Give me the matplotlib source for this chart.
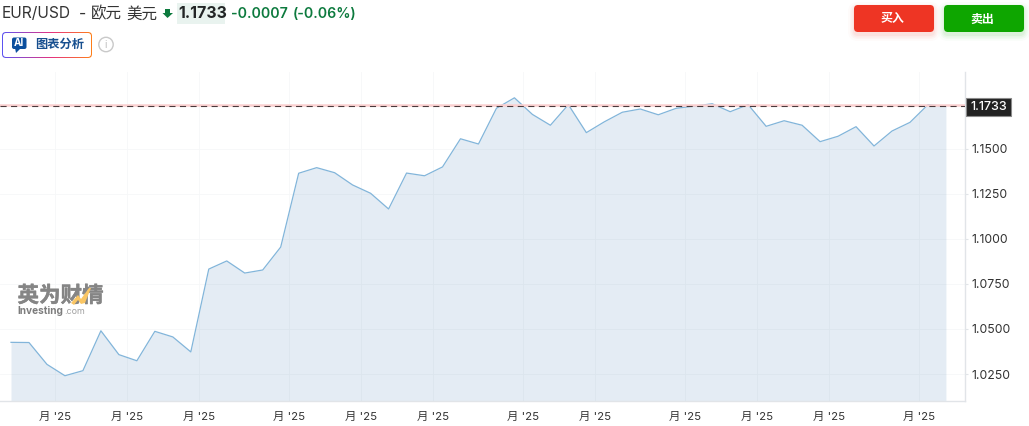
import numpy as np
import matplotlib
matplotlib.use('Agg')
import matplotlib.pyplot as plt
import matplotlib.patheffects as pe
from matplotlib.patches import FancyBboxPatch, Polygon, Circle

plt.rcParams['font.family'] = ['Inter', 'Noto Sans CJK SC', 'DejaVu Sans']

# weekly closes
prices = [1.0426, 1.0425, 1.0304, 1.0241, 1.0269, 1.0490, 1.0358, 1.0324, 1.0487, 1.0456,
          1.0373, 1.0832, 1.0877, 1.0810, 1.0827, 1.0954, 1.1363, 1.1394, 1.1366, 1.1298,
          1.1252, 1.1165, 1.1364, 1.1349, 1.1398, 1.1554, 1.1525, 1.1723, 1.1781, 1.1689,
          1.1629, 1.1743, 1.1588, 1.1648, 1.1701, 1.1719, 1.1687, 1.1723, 1.1735, 1.1748,
          1.1704, 1.1743, 1.1623, 1.1654, 1.1629, 1.1538, 1.1568, 1.1621, 1.1514, 1.1597,
          1.1645, 1.1743, 1.1733]
last_price = 1.1733
y_ticks = [1.0250, 1.0500, 1.0750, 1.1000, 1.1250, 1.1500]
x_ticks = [2.45, 6.45, 10.45, 15.45, 19.47, 23.47, 28.47, 32.47, 37.48, 41.48, 45.48, 50.48]
x_labels = ["月 '25"] * 12

W, H = 1029, 426
fig = plt.figure(figsize=(W / 100, H / 100), dpi=100, facecolor='white')

# chart area, x axis in weeks
y_bottom = 1.0101
ax = fig.add_axes([0, (H - 401) / H, 965 / W, 329 / H])
ax.set_xlim(-0.612, 53.06)
ax.set_ylim(y_bottom, 1.1924)
x = np.arange(len(prices))
ax.fill_between(x, prices, y_bottom, color='#2a6ea8', alpha=0.125, lw=0, zorder=2)
ax.plot(x, prices, color='#82b5da', lw=0.9, zorder=3)
ax.axhline(last_price + 0.0007, color='#fbd0d0', lw=1.8, zorder=4)
ax.axhline(last_price, color='#4a3a3c', lw=0.8, dashes=(5.5, 4), zorder=5)

ax.set_xticks(x_ticks)
ax.set_xticklabels(x_labels)
ax.set_yticks(y_ticks)
ax.set_yticklabels(['%.4f' % v for v in y_ticks])
ax.yaxis.tick_right()
ax.grid(color='#f6f7f8', lw=0.6, zorder=1)
ax.set_axisbelow(True)
for s in ['top', 'left']:
    ax.spines[s].set_visible(False)
for s in ['right', 'bottom']:
    ax.spines[s].set_color('#e1e4e8')
    ax.spines[s].set_linewidth(1)
ax.tick_params(axis='y', length=2.2, width=0.8, color='#e1e4e8', labelcolor='#333333', labelsize=8.8, pad=2.2)
ax.tick_params(axis='x', length=0, labelcolor='#333333', labelsize=8.2, pad=8)

# overlay in pixel coordinates for the page furniture
ov = fig.add_axes([0, 0, 1, 1], facecolor='none')
ov.set_xlim(0, W)
ov.set_ylim(H, 0)
ov.axis('off')

# price label
ov.add_patch(plt.Rectangle((965.5, 97.5), 45, 18, fc='#222222', ec='#8a8a8a', lw=0.8))
ov.text(989, 107, '%.4f' % last_price, color='white', fontsize=9, fontweight='medium', ha='center', va='center')

# header
ov.text(2, 14, 'EUR/USD', fontsize=11.2, color='#333333', va='center')
ov.text(79, 14, '-', fontsize=11.2, color='#333333', va='center')
ov.text(90.5, 14, '欧元', fontsize=11.2, color='#333333', va='center')
ov.text(126.5, 14, '美元', fontsize=11.2, color='#333333', va='center')
ov.add_patch(Polygon([(165, 9), (170, 9), (170, 13), (173, 13), (167.5, 18), (162.5, 13), (165, 13)],
                     fc='#0d7a3e', ec='none'))
ov.add_patch(plt.Rectangle((177, 3), 48, 21, fc='#e9f3ef', ec='none'))
ov.text(178, 14, '1.1733', fontsize=11.5, fontweight='bold', color='#232526', va='center')
ov.text(231, 14, '-0.0007', fontsize=10.2, fontweight='semibold', color='#0d7a3e', va='center')
ov.text(293, 14, '(-0.06%)', fontsize=10.2, fontweight='semibold', color='#0d7a3e', va='center')

# AI button, gradient border
outer = FancyBboxPatch((2, 32), 90, 26, boxstyle='round,pad=0,rounding_size=4', fc='none', ec='none',
                       transform=ov.transData)
ov.add_patch(outer)
grad = np.linspace(0, 1, 200)
colors = np.array([[0.36, 0.33, 0.95], [0.90, 0.20, 0.50], [1.0, 0.50, 0.10]])
rgb = np.stack([np.interp(grad, [0, 0.55, 1], colors[:, i]) for i in range(3)], axis=1)[None, :, :]
im = ov.imshow(rgb, extent=(2, 92, 58, 32), aspect='auto', zorder=2)
im.set_clip_path(outer)
ov.set_xlim(0, W)
ov.set_ylim(H, 0)
ov.add_patch(FancyBboxPatch((3, 33), 88, 24, boxstyle='round,pad=0,rounding_size=3', fc='white', ec='none', zorder=3))
ov.add_patch(FancyBboxPatch((12, 37.5), 14.5, 11.5, boxstyle='round,pad=0,rounding_size=2', fc='#0b4f9e', ec='none', zorder=4))
ov.add_patch(Polygon([(15, 48), (21, 48), (16, 53)], fc='#0b4f9e', ec='none', zorder=4))
ov.text(19.2, 43.5, 'AI', fontsize=7.2, fontweight='bold', color='white', ha='center', va='center', zorder=5)
ov.text(59.5, 44.5, '图表分析', fontsize=8.8, fontweight='bold', color='#174f8f', ha='center', va='center', zorder=5)
ov.add_patch(Circle((106, 44.5), 7.2, fc='white', ec='#c9c9c9', lw=1, zorder=4))
ov.text(106, 44.5, 'i', fontsize=7.5, color='#c0c0c0', ha='center', va='center', zorder=5)

# buy / sell buttons with soft shadow
for bx, col, label in [(854, '#ee3524', '买入'), (944, '#0ea600', '卖出')]:
    for grow, a in [(6, 0.02), (4, 0.03), (2.5, 0.04), (1, 0.05)]:
        ov.add_patch(FancyBboxPatch((bx - grow, 5 - grow + 3), 80 + 2 * grow, 27 + 2 * grow,
                                    boxstyle='round,pad=0,rounding_size=%g' % (4 + grow),
                                    fc=col, ec='none', alpha=a, zorder=2))
    ov.add_patch(FancyBboxPatch((bx, 5), 80, 27, boxstyle='round,pad=0,rounding_size=4', fc=col, ec='none', zorder=3))
    ov.text(bx + 38, 19.5, label, fontsize=8.6, fontweight='bold', color='white', ha='center', va='center', zorder=4)

# watermark
ov.text(17.5, 296, '英为财情', fontsize=15.5, fontweight='bold', color='#858585', va='center', zorder=6,
        path_effects=[pe.withStroke(linewidth=0.3, foreground='#858585')])
ov.add_patch(Polygon([(71, 303), (78, 295), (81, 299), (89, 288), (91, 288), (85, 303), (81, 304), (78, 300), (74, 305)],
                     fc='#fac664', ec='none', zorder=7))
ov.text(17.5, 311.5, 'Investing', fontsize=7.3, fontweight='bold', color='#7d7d7d', va='center', zorder=6)
ov.text(64, 312, '.com', fontsize=6.4, color='#a0a0a0', va='center', zorder=6)

fig.savefig('out.png', dpi=100)
